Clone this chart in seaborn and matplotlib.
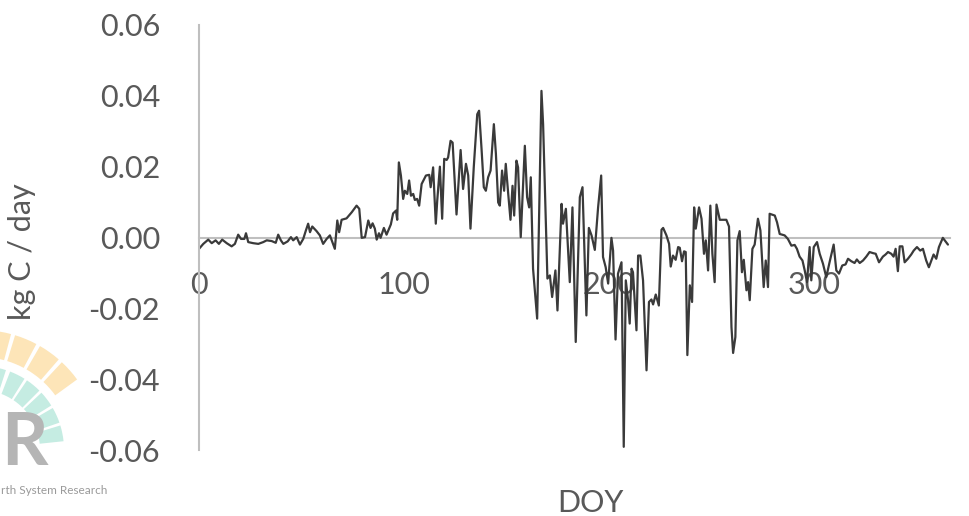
import matplotlib.pyplot as plt
import seaborn as sns
from matplotlib.patches import Wedge
from matplotlib.ticker import FuncFormatter

# values (vertices of the daily series)
doy = [
    0.0, 2.1, 4.5, 6.2, 8.1, 9.7, 11.3, 13.5, 15.9, 17.5, 19.1, 20.5, 22.1, 22.9, 24.0,
    26.4, 28.9, 31.3, 33.0, 35.4, 37.4, 38.6, 39.9, 41.1, 43.2, 44.8, 45.9, 47.6, 49.2,
    50.8, 52.1, 53.2, 54.1, 55.2, 57.3, 58.9, 60.5, 62.2, 63.8, 66.2, 67.4, 68.3, 69.5,
    71.9, 74.4, 76.8, 78.1, 79.3, 80.9, 82.5, 83.6, 84.6, 85.7, 86.6, 87.7, 88.5, 90.1,
    91.4, 93.5, 94.6, 96.0, 96.6, 97.4, 98.4, 99.5, 100.3, 101.5, 102.4, 103.3, 104.4,
    105.2, 106.3, 107.3, 108.5, 110.6, 112.2, 112.9, 114.1, 115.4, 116.1, 117.4, 118.5,
    119.5, 120.7, 121.4, 122.6, 123.6, 125.5, 127.5, 128.7, 130.1, 131.2, 132.3, 133.9,
    135.6, 136.5, 137.7, 138.8, 139.8, 140.9, 142.1, 143.7, 144.7, 145.8, 146.6, 147.7,
    148.7, 149.5, 150.7, 151.8, 152.8, 153.6, 154.7, 155.5, 156.8, 158.8, 159.9, 160.9,
    161.7, 162.8, 164.8, 166.9, 167.7, 169.8, 171.0, 172.1, 173.7, 174.7, 176.7, 177.4,
    178.8, 180.7, 182.0, 183.6, 185.6, 186.9, 188.8, 190.0, 191.3, 192.9, 194.5, 196.0,
    196.9, 198.2, 199.4, 201.0, 201.8, 203.0, 204.2, 205.9, 207.0, 208.0, 209.1, 209.9,
    210.8, 211.5, 213.2, 214.0, 215.1, 216.4, 218.1, 219.3, 220.5, 221.3, 222.6, 224.1,
    225.4, 226.2, 227.8, 229.1, 229.9, 231.0, 232.3, 233.5, 234.3, 235.4, 236.4, 237.2,
    238.0, 239.2, 240.3, 241.3, 242.1, 243.7, 244.9, 246.1, 247.0, 248.1, 249.2, 250.2,
    251.3, 252.2, 253.8, 257.0, 258.3, 259.5, 260.3, 261.4, 262.4, 263.5, 264.6, 265.5,
    266.8, 267.6, 268.4, 269.7, 270.8, 272.4, 273.6, 275.2, 276.2, 277.3, 278.1, 280.6,
    281.7, 283.0, 285.4, 287.0, 288.7, 290.3, 291.4, 292.7, 294.1, 295.2, 296.3, 297.6,
    298.4, 299.6, 301.2, 302.5, 304.1, 305.7, 307.3, 309.3, 310.6, 311.9, 313.5, 315.1,
    316.3, 317.9, 319.5, 320.6, 322.0, 323.6, 325.2, 326.8, 328.4, 329.8, 331.4, 333.3,
    334.6, 335.8, 337.4, 338.5, 339.5, 340.6, 341.5, 342.8, 343.9, 345.5, 347.1, 348.3,
    349.9, 351.5, 352.8, 354.4, 355.7, 356.9, 358.0, 359.3, 360.6, 362.5, 363.8, 365.0,
]
nee = [
    -0.0032, -0.0018, -0.0006, -0.0016, -0.0008, -0.0018, -0.0006, -0.0016, -0.0025,
    -0.0018, 0.0008, -0.0004, -0.0004, 0.0012, -0.0013, -0.0016, -0.0018, -0.0013,
    -0.0008, -0.0010, -0.0015, 0.0008, -0.0008, -0.0018, -0.0011, 0.0001, -0.0008,
    0.0001, -0.0020, -0.0004, 0.0020, 0.0039, 0.0015, 0.0031, 0.0018, 0.0006, -0.0018,
    -0.0004, 0.0006, -0.0032, 0.0048, 0.0015, 0.0050, 0.0054, 0.0071, 0.0090, 0.0081,
    -0.0001, 0.0001, 0.0048, 0.0027, 0.0040, 0.0025, -0.0006, 0.0012, -0.0001, 0.0027,
    0.0008, 0.0037, 0.0068, 0.0076, 0.0050, 0.0212, 0.0175, 0.0109, 0.0132, 0.0123,
    0.0161, 0.0118, 0.0123, 0.0106, 0.0109, 0.0090, 0.0151, 0.0175, 0.0177, 0.0142,
    0.0198, 0.0039, 0.0104, 0.0200, 0.0053, 0.0222, 0.0219, 0.0226, 0.0273, 0.0268,
    0.0065, 0.0247, 0.0137, 0.0208, 0.0175, 0.0025, 0.0198, 0.0348, 0.0358, 0.0250,
    0.0142, 0.0132, 0.0170, 0.0189, 0.0320, 0.0236, 0.0099, 0.0090, 0.0189, 0.0132,
    0.0208, 0.0123, 0.0050, 0.0146, 0.0062, 0.0217, 0.0198, 0.0001, 0.0259, 0.0114,
    0.0085, 0.0170, -0.0088, -0.0229, 0.0414, 0.0320, -0.0116, -0.0107, -0.0168,
    -0.0093, -0.0206, 0.0095, 0.0039, 0.0081, -0.0126, 0.0085, -0.0295, 0.0114, 0.0142,
    -0.0220, 0.0027, 0.0006, -0.0035, 0.0085, 0.0175, -0.0055, -0.0084, -0.0130,
    -0.0001, -0.0037, -0.0288, -0.0102, -0.0070, -0.0591, -0.0121, -0.0177, -0.0243,
    -0.0088, -0.0098, -0.0262, -0.0051, -0.0051, -0.0121, -0.0375, -0.0182, -0.0175,
    -0.0189, -0.0161, -0.0192, 0.0022, 0.0027, 0.0006, -0.0018, -0.0082, -0.0051,
    -0.0063, -0.0027, -0.0029, -0.0067, -0.0039, -0.0041, -0.0332, -0.0135, -0.0182,
    0.0085, 0.0025, 0.0085, 0.0053, -0.0046, -0.0008, -0.0093, 0.0090, -0.0046, -0.0126,
    0.0093, 0.0050, 0.0050, 0.0031, -0.0253, -0.0326, -0.0281, -0.0008, 0.0018, -0.0098,
    -0.0063, -0.0149, -0.0126, -0.0177, -0.0032, -0.0020, 0.0053, 0.0020, -0.0140,
    -0.0065, -0.0140, 0.0067, 0.0062, 0.0043, 0.0010, 0.0006, -0.0004, -0.0023, -0.0021,
    -0.0032, -0.0054, -0.0065, -0.0093, -0.0126, -0.0027, -0.0121, -0.0027, -0.0013,
    -0.0046, -0.0074, -0.0112, -0.0070, -0.0020, -0.0093, -0.0102, -0.0079, -0.0076,
    -0.0060, -0.0067, -0.0072, -0.0062, -0.0072, -0.0065, -0.0054, -0.0041, -0.0044,
    -0.0046, -0.0070, -0.0054, -0.0048, -0.0041, -0.0046, -0.0054, -0.0032, -0.0095,
    -0.0025, -0.0025, -0.0070, -0.0060, -0.0048, -0.0037, -0.0027, -0.0037, -0.0032,
    -0.0065, -0.0084, -0.0065, -0.0048, -0.0060, -0.0027, -0.0001, -0.0011, -0.0020,
]
x_ticks = [0, 100, 200, 300]
y_ticks = [-0.06, -0.04, -0.02, 0.00, 0.02, 0.04, 0.06]

sns.set_style("white")
plt.rcParams["font.family"] = ["Lato", "DejaVu Sans"]

W, H = 969, 516
fig = plt.figure(figsize=(W / 100, H / 100), dpi=100)
ax = fig.add_axes([199 / W, 66 / H, 751 / W, 425 / H])

sns.lineplot(x=doy, y=nee, ax=ax, color="#3a3a3a", linewidth=1.6, estimator=None)

ax.set_xlim(0, 366)
ax.set_ylim(-0.06, 0.06)
ax.set_xticks(x_ticks)
ax.set_yticks(y_ticks)
ax.yaxis.set_major_formatter(FuncFormatter(lambda v, _: f"{v:.2f}"))
ax.tick_params(axis="both", length=0, labelsize=22, labelcolor="#595959")
ax.tick_params(axis="y", pad=28)
ax.tick_params(axis="x", pad=24)

# Excel style: category axis crosses at zero
for side in ["top", "right"]:
    ax.spines[side].set_visible(False)
ax.spines["bottom"].set_position(("data", 0))
for side in ["bottom", "left"]:
    ax.spines[side].set_color("#bfbfbf")
    ax.spines[side].set_linewidth(1.5)
ax.spines["bottom"].set_zorder(0)
ax.set_xlabel("")
ax.set_ylabel("")

fig.text(22 / W, 1 - 252 / H, "kg C / day", rotation=90, ha="center", va="center",
         fontsize=22, color="#595959")
fig.text(590 / W, 1 - 503 / H, "DOY", ha="center", va="center", fontsize=22, color="#595959")

# partial institute logo in the lower left corner
lax = fig.add_axes([0, 0, 130 / W, 200 / H])
lax.set_xlim(0, 130)
lax.set_ylim(516, 316)
lax.set_aspect("equal", adjustable="datalim")
lax.axis("off")
cx, cy = -20, 450
for a0 in [36, 49, 62, 75, 88]:
    lax.add_patch(Wedge((cx, cy), 120, -(a0 + 11), -a0, width=27, facecolor="#fde5b8",
                        edgecolor="none"))
for a0 in [6, 19, 32, 45, 58, 72, 86]:
    lax.add_patch(Wedge((cx, cy), 84, -(a0 + 11), -a0, width=24, facecolor="#c5ece2",
                        edgecolor="none"))
lax.text(1, 465, "R", ha="left", va="baseline", fontsize=52, fontweight="bold",
         color="#b5b5b5")
lax.text(1, 494, "rth System Research", ha="left", va="baseline", fontsize=8.5,
         color="#9a9a9a")

fig.savefig("out.png", dpi=100)
